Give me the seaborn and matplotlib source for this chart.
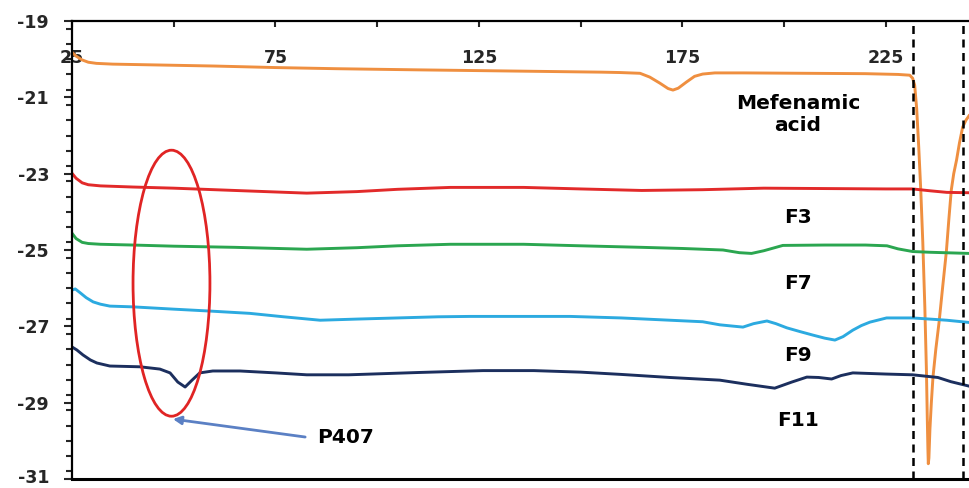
import numpy as np
import pandas as pd
import matplotlib
matplotlib.use("Agg")
import matplotlib.pyplot as plt
import matplotlib.transforms as mtransforms
from matplotlib.patches import Ellipse
from matplotlib.ticker import MultipleLocator, FixedLocator
import seaborn as sns

# DSC thermograms: heat flow vs temperature (°C)
mef_x = [25, 26, 27.5, 29, 31, 35, 45, 60, 75, 90, 110, 125, 140, 155, 159.6, 164.6,
         167, 169.5, 171.5, 172.7, 174, 176, 178, 180, 183, 190, 205, 220, 228,
         230.9, 231.6, 232.1, 232.6, 233.1, 233.6, 234.1, 234.6, 235.0, 235.2,
         235.35, 235.45, 235.6, 235.85, 236.2, 236.6, 237.3, 238.1, 239.0, 239.9,
         240.5, 241.1, 241.7, 242.4, 243.1, 243.9, 244.7, 245.6]
mef_y = [-19.82, -19.92, -20.02, -20.08, -20.11, -20.13, -20.15, -20.18, -20.22,
         -20.25, -20.28, -20.30, -20.32, -20.34, -20.35, -20.37, -20.47, -20.63,
         -20.77, -20.81, -20.76, -20.60, -20.45, -20.39, -20.36, -20.36, -20.37,
         -20.38, -20.40, -20.42, -20.50, -20.68, -21.3, -22.3, -23.43, -24.8,
         -26.5, -28.2, -29.4, -30.2, -30.6, -30.45, -29.7, -29.0, -28.33, -27.6,
         -26.89, -25.95, -25.03, -24.2, -23.43, -23.0, -22.64, -22.2, -21.78,
         -21.6, -21.46]

f3_x = [25, 26, 27.5, 29, 32, 40, 50, 65, 82.7, 95, 105, 118, 136, 150, 165, 180,
        195, 210, 225, 231.6, 236, 240, 245.6]
f3_y = [-22.99, -23.12, -23.24, -23.29, -23.32, -23.35, -23.38, -23.44, -23.51,
        -23.47, -23.41, -23.36, -23.36, -23.40, -23.44, -23.42, -23.38, -23.39,
        -23.40, -23.40, -23.45, -23.49, -23.50]

f7_x = [25, 26, 27.5, 29, 32, 40, 50, 65, 82.7, 95, 105, 118, 136, 150, 165, 175,
        185, 189, 192, 195, 199.7, 210, 220, 225.3, 228, 231.6, 236, 245.6]
f7_y = [-24.56, -24.70, -24.80, -24.83, -24.85, -24.87, -24.90, -24.93, -24.98,
        -24.94, -24.89, -24.85, -24.85, -24.89, -24.93, -24.96, -25.00, -25.07,
        -25.09, -25.02, -24.88, -24.87, -24.87, -24.89, -24.97, -25.04, -25.06,
        -25.09]

f9_x = [25, 25.8, 27, 28.5, 30.2, 32, 34.3, 40, 50, 58.9, 68.7, 77, 86, 95, 105,
        115, 122.8, 135, 147.4, 160, 172, 180, 184.2, 187, 189.9, 192.5, 195.8,
        198, 200.7, 204, 207.1, 210, 212.5, 214.5, 216.9, 219, 221.1, 225.2,
        231.6, 240, 245.6]
f9_y = [-26.05, -26.02, -26.12, -26.25, -26.36, -26.42, -26.47, -26.49, -26.55,
        -26.60, -26.66, -26.75, -26.84, -26.81, -26.78, -26.75, -26.74, -26.74,
        -26.74, -26.78, -26.84, -26.88, -26.96, -26.99, -27.02, -26.93, -26.86,
        -26.93, -27.04, -27.14, -27.23, -27.31, -27.36, -27.27, -27.10, -26.98,
        -26.89, -26.78, -26.78, -26.84, -26.90]

f11_x = [25, 26.2, 27.7, 29.5, 31.1, 34.3, 41.7, 46.6, 49.1, 51, 52.8, 54.5, 56.4,
         59.6, 66.3, 75, 82.7, 93, 110, 126, 138.5, 150, 160, 171.9, 184.2, 191,
         197.7, 201.9, 205.6, 208.5, 211.7, 214, 216.9, 225, 231.6, 237.8, 241,
         245.6]
f11_y = [-27.54, -27.62, -27.75, -27.88, -27.96, -28.04, -28.06, -28.12, -28.22,
         -28.46, -28.59, -28.41, -28.22, -28.17, -28.17, -28.22, -28.27, -28.27,
         -28.21, -28.16, -28.16, -28.20, -28.26, -28.34, -28.41, -28.52, -28.62,
         -28.46, -28.33, -28.34, -28.38, -28.29, -28.22, -28.25, -28.27, -28.34,
         -28.45, -28.57]

series_names = ["Mefenamic acid", "F3", "F7", "F9", "F11"]
series_colors = ["#EF8F40", "#E22A2A", "#2BA650", "#2CAAE0", "#1C2F5E"]

x_tick_values = [25, 75, 125, 175, 225]
x_minor_values = [50, 100, 150, 200]
y_tick_values = [-19, -21, -23, -25, -27, -29, -31]
marker_lines = [231.6, 244.0]

frames = []
for name, xs, ys in zip(series_names,
                        [mef_x, f3_x, f7_x, f9_x, f11_x],
                        [mef_y, f3_y, f7_y, f9_y, f11_y]):
    frames.append(pd.DataFrame({"T": xs, "HF": ys, "sample": name}))
df = pd.concat(frames, ignore_index=True)

sns.set_style("ticks")
plt.rcParams["font.family"] = ["DejaVu Sans"]
plt.rcParams["axes.unicode_minus"] = False

W, H = 970, 488
fig = plt.figure(figsize=(W / 100, H / 100), dpi=100)
ax = fig.add_axes([72 / W, 9 / H, (W - 72) / W, (479 - 21) / H])

sns.lineplot(data=df, x="T", y="HF", hue="sample", hue_order=series_names,
             palette=series_colors, estimator=None, sort=False, linewidth=2.1,
             legend=False, ax=ax)

ax.set_xlim(25, 245.7)
ax.set_ylim(-31, -19)
ax.set_xlabel("")
ax.set_ylabel("")

for xv in marker_lines:
    ax.axvline(xv, color="black", linewidth=1.8, linestyle=(0, (3.2, 2.2)), zorder=3)

# x axis: ticks along the top, labels set inside the plot
ax.xaxis.set_ticks_position("top")
ax.xaxis.set_major_locator(FixedLocator(x_tick_values))
ax.xaxis.set_minor_locator(FixedLocator(x_minor_values))
ax.set_xticklabels([str(v) for v in x_tick_values])
ax.tick_params(axis="x", which="both", direction="in", length=4.5, width=1.5,
               top=True, bottom=False, labeltop=True, labelbottom=False,
               pad=-33, labelsize=12.5)
for lab in ax.get_xticklabels():
    lab.set_fontweight("bold")

# y axis
ax.yaxis.set_major_locator(FixedLocator(y_tick_values))
ax.yaxis.set_minor_locator(MultipleLocator(0.4))
ax.set_yticklabels([str(v) for v in y_tick_values])
ax.tick_params(axis="y", which="major", direction="out", length=5.5, width=1.5,
               pad=11, labelsize=12.5)
ax.tick_params(axis="y", which="minor", direction="out", length=4.3, width=1.5)
for lab in ax.get_yticklabels():
    lab.set_fontweight("bold")
# keep the lowest label inside the figure
lowest = ax.yaxis.get_major_ticks()[-1].label1
lowest.set_transform(lowest.get_transform()
                     + mtransforms.ScaledTranslation(0, 3 / 100, fig.dpi_scale_trans))

for side in ["left", "top", "bottom"]:
    ax.spines[side].set_color("black")
ax.spines["left"].set_linewidth(1.6)
ax.spines["top"].set_linewidth(1.6)
ax.spines["bottom"].set_linewidth(2.2)
ax.spines["right"].set_visible(False)

# sample labels
label_font = dict(fontsize=14.5, fontweight="bold", color="black", ha="center", va="center")
ax.text(203.4, -21.45, "Mefenamic\nacid", linespacing=1.25, **label_font)
ax.text(203.4, -24.14, "F3", **label_font)
ax.text(203.4, -25.88, "F7", **label_font)
ax.text(203.4, -27.77, "F9", **label_font)
ax.text(203.4, -29.47, "F11", **label_font)

# P407 endotherm highlight
ax.add_patch(Ellipse((49.45, -25.87), width=18.9, height=6.97, fill=False,
                     edgecolor="#E02424", linewidth=2.0, zorder=4))
ax.annotate("", xy=(49.8, -29.43), xytext=(82.3, -29.9),
            arrowprops=dict(arrowstyle="-|>", color="#5B80C4", lw=2.0,
                            mutation_scale=12, shrinkA=0, shrinkB=0))
ax.text(85.3, -29.9, "P407", fontsize=14.5, fontweight="bold", color="black",
        ha="left", va="center")

fig.savefig("out.png", dpi=100)
